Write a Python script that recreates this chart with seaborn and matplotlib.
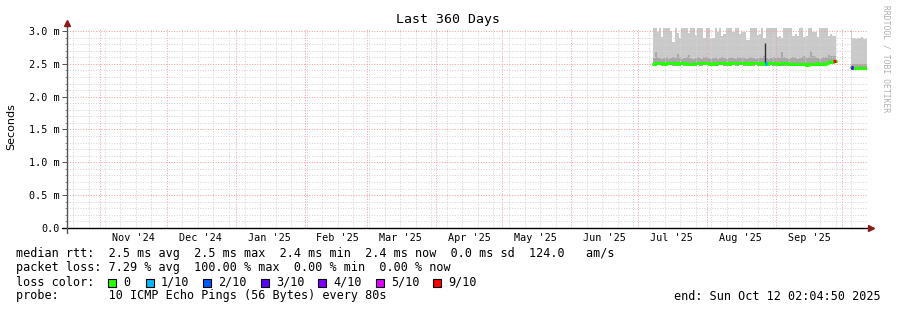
import numpy as np
import pandas as pd
import matplotlib
matplotlib.use("Agg")
import matplotlib.pyplot as plt
import matplotlib.dates as mdates
from matplotlib.ticker import MultipleLocator, FuncFormatter, NullFormatter
from matplotlib.patches import Rectangle
from matplotlib.lines import Line2D
from matplotlib.transforms import blended_transform_factory
import seaborn as sns

# ---------------- data ----------------
x_start = "2024-10-17 02:04:50"
x_end = "2025-10-12 02:04:50"

seg1_start = "2025-07-08"
seg2_start = "2025-10-05"

# upper edge of the smoke (ms); values above the chart top are clipped
smoke_top1 = [
    3.10, 3.10, 2.98, 3.10, 2.91, 3.10, 3.10, 3.10, 3.00, 2.83,
    3.10, 2.97, 2.89, 3.10, 3.10, 3.10, 2.97, 3.10, 3.10, 2.94,
    3.10, 3.10, 3.10, 2.89, 3.10, 3.10, 2.88, 2.90, 3.10, 2.98,
    3.10, 2.93, 2.95, 3.10, 3.10, 3.10, 2.98, 3.10, 3.10, 2.96,
    2.98, 2.98, 2.86, 2.87, 3.10, 3.10, 3.10, 2.94, 2.95, 3.10,
    2.89, 3.10, 3.10, 3.10, 3.10, 3.10, 2.91, 2.92, 2.90, 3.10,
    3.10, 3.10, 3.10, 2.92, 2.95, 2.92, 3.10, 3.10, 2.91, 2.92,
    3.10, 3.10, 2.98, 2.98, 2.91, 3.10, 3.10, 3.10, 3.10, 2.93,
    2.95, 2.92, 2.93]
# upper edge of the dense (darker) smoke band
dark_top1 = [
    2.59, 2.68, 2.60, 2.59, 2.58, 2.59, 2.60, 2.58, 2.59, 2.60,
    2.59, 2.65, 2.60, 2.58, 2.59, 2.60, 2.64, 2.59, 2.58, 2.59,
    2.60, 2.59, 2.58, 2.60, 2.61, 2.59, 2.58, 2.59, 2.60, 2.58,
    2.59, 2.60, 2.59, 2.58, 2.59, 2.61, 2.59, 2.58, 2.60, 2.59,
    2.60, 2.59, 2.58, 2.59, 2.60, 2.59, 2.58, 2.59, 2.60, 2.59,
    2.62, 2.59, 2.58, 2.59, 2.60, 2.59, 2.60, 2.59, 2.68, 2.60,
    2.59, 2.58, 2.59, 2.60, 2.59, 2.58, 2.59, 2.60, 2.62, 2.59,
    2.60, 2.70, 2.62, 2.60, 2.59, 2.58, 2.59, 2.60, 2.61, 2.64,
    2.62, 2.62, 2.62]
smoke_bottom1 = [
    2.47, 2.47, 2.48, 2.48, 2.47, 2.47, 2.48, 2.48, 2.48, 2.47,
    2.47, 2.47, 2.47, 2.48, 2.47, 2.47, 2.47, 2.46, 2.47, 2.47,
    2.48, 2.47, 2.47, 2.48, 2.48, 2.47, 2.47, 2.47, 2.47, 2.47,
    2.48, 2.48, 2.47, 2.47, 2.47, 2.47, 2.48, 2.47, 2.47, 2.48,
    2.48, 2.47, 2.47, 2.47, 2.47, 2.47, 2.48, 2.47, 2.47, 2.47,
    2.47, 2.47, 2.47, 2.48, 2.47, 2.47, 2.47, 2.47, 2.47, 2.47,
    2.47, 2.47, 2.47, 2.46, 2.46, 2.47, 2.47, 2.46, 2.46, 2.45,
    2.46, 2.47, 2.46, 2.47, 2.47, 2.47, 2.47, 2.47, 2.48, 2.49,
    2.49, 2.50, 2.51]
median1 = [
    2.50, 2.51, 2.51, 2.52, 2.51, 2.50, 2.51, 2.52, 2.52, 2.51,
    2.51, 2.50, 2.51, 2.52, 2.51, 2.50, 2.50, 2.49, 2.50, 2.51,
    2.52, 2.51, 2.51, 2.52, 2.52, 2.51, 2.50, 2.50, 2.51, 2.51,
    2.52, 2.52, 2.51, 2.51, 2.50, 2.51, 2.52, 2.51, 2.51, 2.52,
    2.52, 2.51, 2.51, 2.50, 2.51, 2.51, 2.52, 2.51, 2.51, 2.50,
    2.51, 2.50, 2.51, 2.52, 2.51, 2.51, 2.50, 2.50, 2.51, 2.51,
    2.51, 2.50, 2.50, 2.49, 2.49, 2.50, 2.50, 2.49, 2.49, 2.48,
    2.49, 2.50, 2.49, 2.50, 2.51, 2.50, 2.50, 2.50, 2.51, 2.53,
    2.53, 2.54, 2.55]
loss1 = [0.0] * 50 + [0.1] + [0.0] * 31 + [0.9]

smoke_top2 = [3.02, 2.89, 2.88, 2.90, 2.89, 2.91, 2.88, 2.90]
dark_top2 = [2.50, 2.49, 2.49, 2.50, 2.49, 2.49, 2.50, 2.49]
smoke_bottom2 = [2.42, 2.42, 2.42, 2.42, 2.42, 2.42, 2.42, 2.42]
median2 = [2.45, 2.44, 2.44, 2.44, 2.44, 2.44, 2.44, 2.44]
loss2 = [0.3, 0.0, 0.0, 0.0, 0.0, 0.0, 0.0, 0.0]

spike_dates = ["2025-08-27"]
spike_tops = [2.82]

month_labels = ["Nov '24", "Dec '24", "Jan '25", "Feb '25", "Mar '25", "Apr '25",
                "May '25", "Jun '25", "Jul '25", "Aug '25", "Sep '25"]
month_label_dates = ["2024-11-16", "2024-12-16", "2025-01-16", "2025-02-16", "2025-03-16",
                     "2025-04-16", "2025-05-16", "2025-06-16", "2025-07-16", "2025-08-16",
                     "2025-09-16"]

loss_labels = ["0", "1/10", "2/10", "3/10", "4/10", "5/10", "9/10"]
loss_levels = [0.0, 0.1, 0.2, 0.3, 0.4, 0.5, 0.9]
loss_colors = ["#26ff00", "#00b8ff", "#0059ff", "#5e00ff", "#7e00ff", "#dd00ff", "#ff0000"]

title = "Last 360 Days"
legend_lines = [
    "median rtt:  2.5 ms avg  2.5 ms max  2.4 ms min  2.4 ms now  0.0 ms sd  124.0   am/s",
    "packet loss: 7.29 % avg  100.00 % max  0.00 % min  0.00 % now",
]
probe_line = "probe:       10 ICMP Echo Pings (56 Bytes) every 80s"
end_line = "end: Sun Oct 12 02:04:50 2025"

# ---------------- style ----------------
sns.set_theme(style="white")
plt.rcParams["font.family"] = ["DejaVu Sans Mono"]

W, H = 897, 310
fig = plt.figure(figsize=(W / 100, H / 100), dpi=100)
fig.patch.set_facecolor("white")
ax = fig.add_axes([67 / W, (H - 228) / H, 800 / W, (228 - 27.7) / H])
ax.set_facecolor("white")

ax.set_xlim(pd.Timestamp(x_start), pd.Timestamp(x_end))
ax.set_ylim(0, 3.05)

LIGHT = "#c9c9c9"
DARK = "#a8a8a8"


def segment(start, top, dtop, bottom, med, loss):
    d = pd.date_range(start, periods=len(med), freq="D")
    return pd.DataFrame({"date": d, "top": top, "dtop": dtop, "bottom": bottom,
                         "median": med, "loss": loss})


segs = [segment(seg1_start, smoke_top1, dark_top1, smoke_bottom1, median1, loss1),
        segment(seg2_start, smoke_top2, dark_top2, smoke_bottom2, median2, loss2)]

for df in segs:
    ax.fill_between(df["date"], df["dtop"], df["top"], step="mid", color=LIGHT, lw=0, zorder=1)
    ax.fill_between(df["date"], df["bottom"], df["dtop"], step="mid", color=DARK, lw=0, zorder=1.1)
    sns.lineplot(data=df, x="date", y="median", ax=ax, color=loss_colors[0],
                 lw=2.2, drawstyle="steps-mid", zorder=3, legend=False)
    n = len(df)
    for i in range(n):
        l = df["loss"].iloc[i]
        if l <= 0:
            continue
        c = loss_colors[int(np.argmin([abs(l - v) for v in loss_levels]))]
        j0, j1 = (i, i + 1) if i < n - 1 else (i - 1, i)
        sub = df.iloc[[j0, j1]]
        ax.plot(sub["date"], sub["median"], color=c, lw=2.2, zorder=3.2,
                drawstyle="steps-mid", solid_capstyle="butt")

# spike
for sd, st in zip(spike_dates, spike_tops):
    base = segs[0].set_index("date")["median"].get(pd.Timestamp(sd), 2.5)
    ax.vlines(pd.Timestamp(sd), base, st, color="#303030", lw=1.0, zorder=3.1)

ax.set_xlabel("")
ax.set_ylabel("")

# ---------------- grid ----------------
ax.xaxis.set_major_locator(mdates.MonthLocator())
ax.xaxis.set_minor_locator(mdates.WeekdayLocator(byweekday=mdates.SU))
ax.xaxis.set_major_formatter(NullFormatter())
ax.yaxis.set_major_locator(MultipleLocator(0.5))
ax.yaxis.set_minor_locator(MultipleLocator(0.1))
ax.yaxis.set_major_formatter(FuncFormatter(lambda v, p: "0.0" if abs(v) < 1e-9 else f"{v:.1f} m"))

ax.set_axisbelow(False)
ax.grid(True, which="minor", color="#d4d4d4", lw=0.72, ls=(0, (1, 1.6)))
ax.grid(True, which="major", color="#f0a0a0", lw=0.72, ls=(0, (1, 1.6)))

ax.tick_params(axis="x", which="both", length=0, labelbottom=False)
ax.tick_params(axis="y", which="major", length=3.6, width=0.72, color="#555555",
               pad=1.5, labelsize=7.3, labelcolor="black", left=True)
ax.tick_params(axis="y", which="minor", length=1.8, width=0.72, color="#999999", left=True)

for s in ax.spines.values():
    s.set_visible(False)

# month labels
tr = blended_transform_factory(ax.transData, ax.transAxes)
for lab, d in zip(month_labels, month_label_dates):
    ax.text(mdates.date2num(pd.Timestamp(d)), -10 / 200.3, lab, transform=tr,
            ha="center", va="center", fontsize=7.3, color="black")

# axes lines with arrows
ax_h = 200.3
ax.add_line(Line2D([-5 / 800, 1 + 2 / 800], [0, 0], transform=ax.transAxes, color="black",
                   lw=1.0, clip_on=False, zorder=4))
ax.plot([1 + 4 / 800], [0], transform=ax.transAxes, marker=">", color="#8b1a1a",
        markersize=4.5, clip_on=False, zorder=5)
ax.add_line(Line2D([0, 0], [-5 / ax_h, 1 + 3 / ax_h], transform=ax.transAxes, color="#555555",
                   lw=1.0, clip_on=False, zorder=4))
ax.plot([0], [1 + 5 / ax_h], transform=ax.transAxes, marker="^", color="#8b1a1a",
        markersize=4.5, clip_on=False, zorder=5)

# ---------------- text ----------------
def fx(px):
    return px / W


def fy(py):
    return 1 - py / H


fig.text(fx(448), fy(19), title, ha="center", va="center", fontsize=9.5, color="black")
fig.text(fx(11), fy(127), "Seconds", rotation=90, ha="center", va="center",
         fontsize=8, family="DejaVu Sans", color="black")
fig.text(fx(886), fy(59), "RRDTOOL / TOBI OETIKER", rotation=270, ha="center", va="center",
         fontsize=5.8, color="#b0b0b0")

for k, line in enumerate(legend_lines):
    fig.text(fx(16), fy(254 + 14 * k), line, ha="left", va="center", fontsize=8.5, color="black")

fig.text(fx(16), fy(282), "loss color:", ha="left", va="center", fontsize=8.5, color="black")
sq_x = [108, 146, 203, 261, 318, 376, 433]
for xpx, lab, col in zip(sq_x, loss_labels, loss_colors):
    fig.patches.append(Rectangle((fx(xpx), fy(286.5)), 8 / W, 8 / H, transform=fig.transFigure,
                                 facecolor=col, edgecolor="black", lw=0.8, figure=fig))
    fig.text(fx(xpx + 15), fy(282), lab, ha="left", va="center", fontsize=8.5, color="black")

fig.text(fx(16), fy(296), probe_line, ha="left", va="center", fontsize=8.5, color="black")
fig.text(fx(881), fy(296), end_line, ha="right", va="center", fontsize=8.5, color="black")

fig.savefig("out.png", dpi=100, facecolor="white")
